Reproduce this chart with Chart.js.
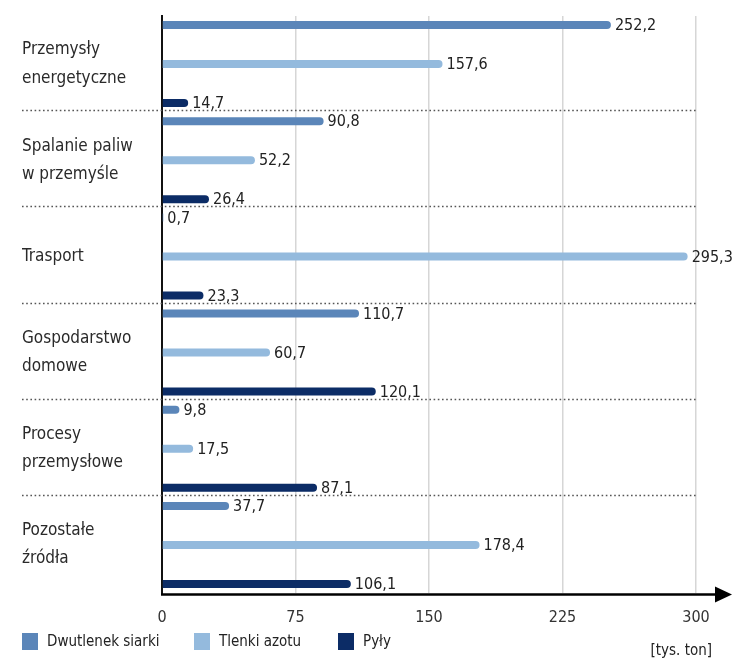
<!DOCTYPE html>
<html>
<head>
<meta charset="utf-8">
<script src="https://cdn.jsdelivr.net/npm/chart.js@4.4.1/dist/chart.umd.min.js"></script>
<style>
  html, body { margin: 0; padding: 0; background: #fff; }
  canvas { display: block; }
</style>
</head>
<body>
<canvas id="emisje" width="734" height="665"></canvas>
<script>
const categories = [
  ['Przemysły', 'energetyczne'],
  ['Spalanie paliw', 'w przemyśle'],
  'Trasport',
  ['Gospodarstwo', 'domowe'],
  ['Procesy', 'przemysłowe'],
  ['Pozostałe', 'źródła']
];
const seriesNames = ['Dwutlenek siarki', 'Tlenki azotu', 'Pyły'];
const dwutlenekSiarki = [252.2, 90.8, 0.7, 110.7, 9.8, 37.7];
const tlenkiAzotu = [157.6, 52.2, 295.3, 60.7, 17.5, 178.4];
const pyly = [14.7, 26.4, 23.3, 120.1, 87.1, 106.1];
const xTicks = [0, 75, 150, 225, 300];
const unitLabel = '[tys. ton]';

const colors = ['#5b86b9', '#94badd', '#0c2c66'];
const FONT = '"Liberation Sans Narrow", "DejaVu Sans Condensed", "Open Sans", sans-serif';

const fmt = v => v.toFixed(1).replace('.', ',');

// dotted separators, value labels, arrowed x axis, legend and unit
const overlay = {
  id: 'overlay',
  beforeDatasetsDraw(chart) {
    const { ctx, scales: { y }, chartArea } = chart;
    ctx.save();
    ctx.strokeStyle = '#555';
    ctx.lineWidth = 1.6;
    ctx.setLineDash([1.6, 2.6]);
    for (let i = 0; i < categories.length - 1; i++) {
      const yy = Math.round((y.getPixelForValue(i) + y.getPixelForValue(i + 1)) / 2) - 1.5;
      ctx.beginPath();
      ctx.moveTo(22, yy);
      ctx.lineTo(chartArea.right, yy);
      ctx.stroke();
    }
    ctx.restore();
  },
  afterDatasetsDraw(chart) {
    const { ctx } = chart;
    ctx.save();
    ctx.font = '16px ' + FONT;
    ctx.fillStyle = '#222';
    ctx.textBaseline = 'middle';
    ctx.textAlign = 'left';
    chart.data.datasets.forEach((ds, i) => {
      chart.getDatasetMeta(i).data.forEach((bar, j) => {
        ctx.fillText(fmt(ds.data[j]), bar.x + 4, bar.y + 1);
      });
    });
    ctx.restore();
  },
  afterDraw(chart) {
    const { ctx, chartArea } = chart;
    ctx.save();
    // x axis with arrow head
    const ay = chartArea.bottom + 1.5;
    ctx.strokeStyle = '#000';
    ctx.fillStyle = '#000';
    ctx.lineWidth = 2.5;
    ctx.beginPath();
    ctx.moveTo(chartArea.left - 1, ay);
    ctx.lineTo(718, ay);
    ctx.stroke();
    ctx.beginPath();
    ctx.moveTo(715, ay - 8);
    ctx.lineTo(732, ay);
    ctx.lineTo(715, ay + 8);
    ctx.closePath();
    ctx.fill();

    // legend
    const legendX = [22, 194, 338];
    ctx.font = '15px ' + FONT;
    ctx.textBaseline = 'middle';
    seriesNames.forEach((name, i) => {
      ctx.fillStyle = colors[i];
      ctx.fillRect(legendX[i], 633, 16, 17);
      ctx.fillStyle = '#222';
      ctx.fillText(name, legendX[i] + 25, 642);
    });

    ctx.textAlign = 'right';
    ctx.fillText(unitLabel, 712, 651);
    ctx.restore();
  }
};

new Chart(document.getElementById('emisje'), {
  type: 'bar',
  data: {
    labels: categories,
    datasets: [
      { label: seriesNames[0], data: dwutlenekSiarki, backgroundColor: colors[0] },
      { label: seriesNames[1], data: tlenkiAzotu, backgroundColor: colors[1] },
      { label: seriesNames[2], data: pyly, backgroundColor: colors[2] }
    ]
  },
  options: {
    indexAxis: 'y',
    responsive: false,
    animation: false,
    categoryPercentage: 1.216,
    barPercentage: 0.205,
    borderRadius: 4,
    borderSkipped: 'start',
    layout: { padding: { left: 22, right: 38, top: 16, bottom: 42 } },
    scales: {
      x: {
        min: 0,
        max: 300,
        afterBuildTicks: scale => { scale.ticks = xTicks.map(v => ({ value: v })); },
        afterFit: scale => {
          scale.height = 30;
          scale.paddingLeft = 0;
          scale.paddingRight = 0;
        },
        grid: {
          color: c => (c.tick && c.tick.value === 0 ? 'rgba(0,0,0,0)' : '#d6d6d6'),
          lineWidth: 1.5,
          drawTicks: false
        },
        border: { display: false },
        ticks: {
          padding: 15,
          color: '#333',
          font: { family: FONT, size: 16 }
        }
      },
      y: {
        afterFit: scale => {
          scale.width = 140;
          scale.paddingTop = 0;
          scale.paddingBottom = 0;
        },
        grid: { display: false },
        border: { color: '#111', width: 2 },
        ticks: {
          crossAlign: 'far',
          color: '#2a2a2a',
          font: { family: FONT, size: 17, lineHeight: 1.65 }
        }
      }
    },
    plugins: {
      legend: { display: false },
      tooltip: { enabled: false }
    }
  },
  plugins: [overlay]
});
</script>
</body>
</html>
